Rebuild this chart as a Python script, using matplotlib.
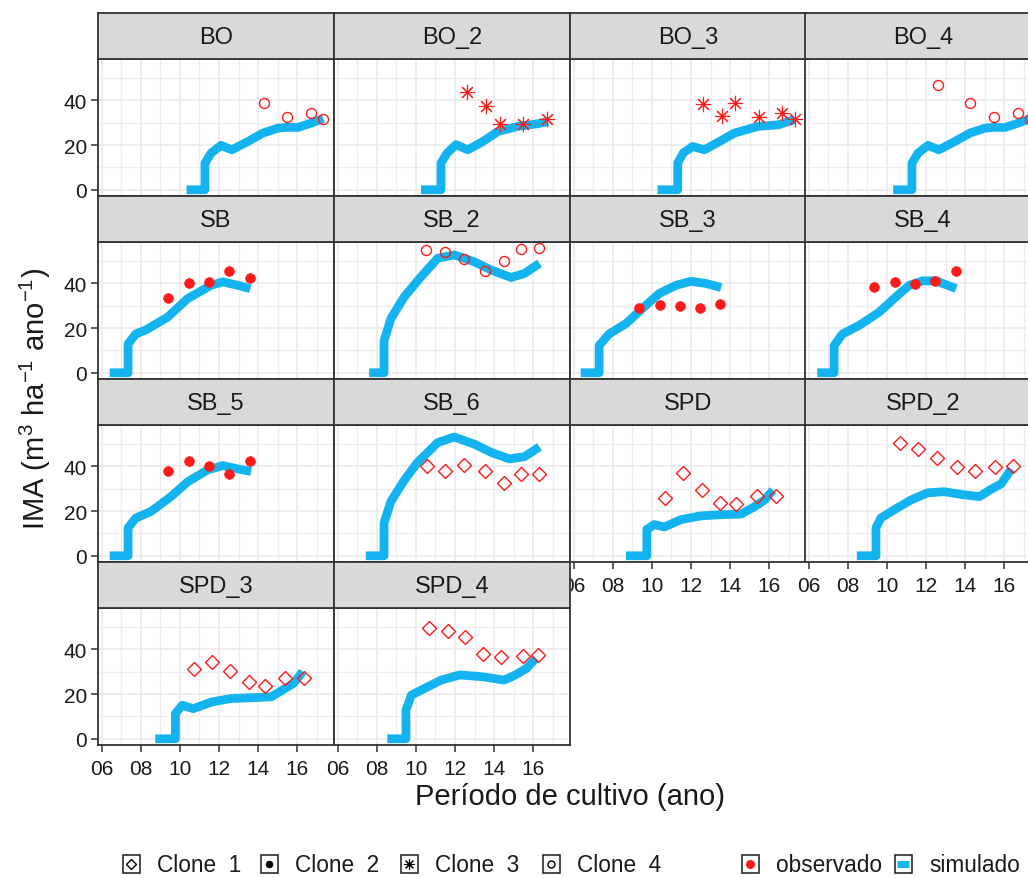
import matplotlib
matplotlib.use("Agg")
import matplotlib.pyplot as plt
from matplotlib.patches import Rectangle
from matplotlib.lines import Line2D
from matplotlib.ticker import MultipleLocator, FixedLocator

plt.rcParams['font.family'] = ['Liberation Sans', 'DejaVu Sans']
plt.rcParams['mathtext.fontset'] = 'custom'
plt.rcParams['mathtext.rm'] = 'Liberation Sans'
plt.rcParams['mathtext.it'] = 'Liberation Sans:italic'

# panels in facet order
panels = ["BO", "BO_2", "BO_3", "BO_4", "SB", "SB_2", "SB_3", "SB_4",
          "SB_5", "SB_6", "SPD", "SPD_2", "SPD_3", "SPD_4"]

clone = {"BO": 4, "BO_2": 3, "BO_3": 3, "BO_4": 4, "SB": 2, "SB_2": 4,
         "SB_3": 2, "SB_4": 2, "SB_5": 2, "SB_6": 1, "SPD": 1, "SPD_2": 1,
         "SPD_3": 1, "SPD_4": 1}

# simulated IMA
sim_x = {
    "BO": [10.34, 11.28, 11.28, 11.59, 12.1, 12.65, 13.47, 14.24, 15.01, 15.5, 16.03, 16.72, 17.33],
    "BO_2": [10.26, 11.28, 11.28, 11.6, 12.05, 12.65, 13.4, 14.19, 15.21, 16.24, 16.75],
    "BO_3": [10.29, 11.32, 11.32, 11.6, 12.08, 12.68, 13.45, 14.22, 15.42, 16.45, 17.3],
    "BO_4": [10.32, 11.28, 11.28, 11.59, 12.1, 12.65, 13.47, 14.24, 15.01, 15.5, 16.03, 16.72, 17.33],
    "SB": [6.41, 7.35, 7.35, 7.74, 8.26, 9.37, 10.39, 11.59, 12.19, 12.96, 13.6],
    "SB_2": [7.61, 8.37, 8.37, 8.72, 9.4, 10.26, 11.11, 11.96, 12.99, 13.85, 14.87, 15.55, 16.32],
    "SB_3": [6.36, 7.3, 7.3, 7.81, 8.67, 9.69, 10.37, 11.23, 12.0, 12.77, 13.54],
    "SB_4": [6.44, 7.3, 7.3, 7.73, 8.58, 9.61, 10.46, 11.15, 11.83, 12.51, 13.54],
    "SB_5": [6.41, 7.35, 7.35, 7.74, 8.51, 9.54, 10.39, 11.42, 12.19, 12.96, 13.64],
    "SB_6": [7.44, 8.37, 8.37, 8.72, 9.4, 10.09, 11.11, 11.96, 12.99, 13.85, 14.78, 15.55, 16.32],
    "SPD": [8.67, 9.74, 9.74, 10.12, 10.63, 11.49, 12.51, 13.54, 14.56, 15.25, 15.76, 16.19],
    "SPD_2": [8.46, 9.44, 9.44, 9.69, 10.37, 11.23, 12.08, 12.93, 13.79, 14.73, 15.25, 15.85, 16.36],
    "SPD_3": [8.74, 9.77, 9.77, 10.12, 10.68, 11.63, 12.58, 13.72, 14.67, 15.24, 15.81, 16.28],
    "SPD_4": [8.54, 9.49, 9.49, 9.77, 10.34, 11.29, 12.24, 13.38, 14.51, 15.09, 15.66, 16.13],
}
sim_y = {
    "BO": [0, 0, 11.9, 16.4, 19.9, 17.9, 21.6, 25.4, 27.6, 28.0, 27.9, 29.9, 31.9],
    "BO_2": [0, 0, 12, 16.5, 20.2, 17.9, 21.5, 26.1, 28.4, 29.6, 30.6],
    "BO_3": [0, 0, 12, 16.5, 19.4, 17.9, 21.6, 25.4, 28.4, 29.1, 31.4],
    "BO_4": [0, 0, 11.9, 16.4, 19.9, 17.9, 21.6, 25.4, 27.6, 28.0, 27.9, 29.9, 31.9],
    "SB": [0, 0, 12.9, 17.4, 19.2, 24.9, 33.2, 39.2, 40.7, 39.2, 37.7],
    "SB_2": [0, 0, 14.4, 24.2, 34.0, 43.0, 51.3, 52.8, 49.7, 46.0, 42.7, 44.5, 49.0],
    "SB_3": [0, 0, 12.2, 17.4, 22.0, 30.2, 35.5, 39.2, 41.0, 40.0, 38.2],
    "SB_4": [0, 0, 12.2, 17.4, 21.2, 27.2, 34.0, 39.2, 41.2, 41.2, 37.7],
    "SB_5": [0, 0, 12.5, 16.9, 19.8, 26.5, 33.1, 38.5, 40.4, 38.9, 37.8],
    "SB_6": [0, 0, 14.7, 24.3, 33.8, 41.9, 50.7, 53.2, 50.0, 46.3, 43.4, 44.4, 48.8],
    "SPD": [0, 0, 11.8, 14.0, 12.9, 16.2, 17.9, 18.4, 18.7, 22.0, 25.0, 29.4],
    "SPD_2": [0, 0, 12.5, 16.9, 20.6, 25.0, 28.2, 28.7, 27.5, 26.5, 29.4, 32.3, 38.9],
    "SPD_3": [0, 0, 11.3, 15.0, 13.5, 16.5, 18.0, 18.4, 18.8, 21.8, 24.8, 30.1],
    "SPD_4": [0, 0, 12.8, 19.6, 22.1, 26.3, 28.6, 27.8, 26.3, 28.6, 31.6, 36.1],
}

# observed IMA
obs_x = {
    "BO": [14.31, 15.47, 16.72, 17.33],
    "BO_2": [12.62, 13.59, 14.31, 15.47, 16.72],
    "BO_3": [12.6, 13.57, 14.27, 15.45, 16.67, 17.3],
    "BO_4": [12.6, 14.27, 15.45, 16.7, 17.33],
    "SB": [9.38, 10.44, 11.5, 12.53, 13.57],
    "SB_2": [10.51, 11.5, 12.44, 13.54, 14.5, 15.38, 16.27],
    "SB_3": [9.32, 10.43, 11.45, 12.46, 13.49],
    "SB_4": [9.35, 10.43, 11.45, 12.46, 13.54],
    "SB_5": [9.38, 10.44, 11.5, 12.53, 13.57],
    "SB_6": [10.56, 11.5, 12.47, 13.55, 14.5, 15.35, 16.27],
    "SPD": [10.68, 11.59, 12.55, 13.5, 14.31, 15.38, 16.32],
    "SPD_2": [10.67, 11.6, 12.55, 13.57, 14.48, 15.55, 16.45],
    "SPD_3": [10.73, 11.63, 12.58, 13.53, 14.35, 15.39, 16.36],
    "SPD_4": [10.69, 11.62, 12.52, 13.44, 14.33, 15.47, 16.23],
}
obs_y = {
    "BO": [38.8, 32.8, 34.6, 31.9],
    "BO_2": [43.6, 37.6, 29.4, 29.6, 31.7],
    "BO_3": [38.5, 33.1, 38.8, 32.8, 34.3, 31.8],
    "BO_4": [47.0, 38.8, 32.8, 34.6, 31.8],
    "SB": [33.7, 40.4, 40.7, 45.5, 42.4],
    "SB_2": [55.0, 54.3, 51.0, 45.4, 50.2, 55.5, 55.8],
    "SB_3": [29.2, 30.2, 29.8, 28.9, 30.7],
    "SB_4": [38.5, 40.7, 39.7, 41.2, 45.7],
    "SB_5": [38.2, 42.6, 40.0, 36.6, 42.6],
    "SB_6": [40.4, 38.2, 40.7, 38.2, 32.6, 36.5, 36.5],
    "SPD": [26.0, 37.0, 29.4, 23.8, 23.2, 26.8, 26.8],
    "SPD_2": [50.7, 47.8, 43.8, 39.7, 38.2, 39.6, 40.0],
    "SPD_3": [31.3, 34.6, 30.5, 25.6, 23.6, 27.2, 27.1],
    "SPD_4": [49.6, 48.1, 45.4, 38.1, 36.8, 37.3, 37.6],
}

clone_labels = ["Clone  1", "Clone  2", "Clone  3", "Clone  4"]

RED = "#FF1A1A"
BLUE = "#12B3EE"
DARK = "#333333"
TXT = "#1A1A1A"
ASTER = (8, 2, 0)


def marker_style(c, color, small=False):
    k = 0.7 if small else 1.0
    if c == 1:
        return dict(marker="D", ms=6.8 * k, mfc="none", mec=color, mew=1.0)
    if c == 2:
        return dict(marker="o", ms=7 * k, mfc=color, mec=color, mew=0.5)
    if c == 3:
        return dict(marker=ASTER, ms=11 * k, mfc="none", mec=color, mew=0.8)
    return dict(marker="o", ms=7.2 * k, mfc="none", mec=color, mew=1.0)


# shared scales, ggplot style 5% expansion
all_x = [v for p in panels for v in sim_x[p] + obs_x[p]]
all_y = [v for p in panels for v in sim_y[p] + obs_y[p]]
xr = max(all_x) - min(all_x)
yr = max(all_y) - min(all_y)
xlim = (min(all_x) - 0.05 * xr, max(all_x) + 0.05 * xr)
ylim = (min(all_y) - 0.05 * yr, max(all_y) + 0.05 * yr)

W, H = 1028, 879
fig = plt.figure(figsize=(W / 100, H / 100), dpi=100)
fig.patch.set_facecolor("white")

col_left = [98, 334, 570, 805]
pw, strip_h, ph = 236, 46, 137
top0, pitch = 14, 183

for i, name in enumerate(panels):
    r, c = divmod(i, 4)
    st = top0 + pitch * r
    pt = st + strip_h
    ax = fig.add_axes([col_left[c] / W, 1 - (pt + ph) / H, pw / W, ph / H])
    sax = fig.add_axes([col_left[c] / W, 1 - pt / H, pw / W, strip_h / H])

    # strip
    sax.set_facecolor("#D9D9D9")
    sax.set_xticks([])
    sax.set_yticks([])
    for s in sax.spines.values():
        s.set_color(DARK)
        s.set_linewidth(1.3)
    sax.text(0.5, 0.48, name, ha="center", va="center", fontsize=17,
             color=TXT, transform=sax.transAxes)

    ax.set_xlim(xlim)
    ax.set_ylim(ylim)
    ax.xaxis.set_major_locator(FixedLocator([6, 8, 10, 12, 14, 16]))
    ax.xaxis.set_minor_locator(FixedLocator([7, 9, 11, 13, 15, 17]))
    ax.yaxis.set_major_locator(MultipleLocator(20))
    ax.yaxis.set_minor_locator(FixedLocator([10, 30, 50]))
    ax.grid(which="major", color="#EBEBEB", lw=1.2)
    ax.grid(which="minor", color="#EDEDED", lw=0.9)
    ax.set_axisbelow(True)
    for s in ax.spines.values():
        s.set_color(DARK)
        s.set_linewidth(1.3)

    ax.plot(sim_x[name], sim_y[name], color=BLUE, lw=6.3,
            solid_capstyle="butt", solid_joinstyle="round", zorder=2)
    ax.plot(obs_x[name], obs_y[name], ls="none", zorder=3,
            **marker_style(clone[name], RED))

    show_x = (r == 3) or (r == 2 and c >= 2)
    show_y = c == 0
    ax.tick_params(which="minor", length=0)
    ax.tick_params(which="major", direction="out", length=5, width=1.1,
                   color=DARK, labelsize=15, labelcolor=TXT)
    ax.tick_params(axis="x", pad=5)
    ax.tick_params(axis="y", pad=3)
    ax.tick_params(axis="x", bottom=show_x, labelbottom=show_x)
    ax.tick_params(axis="y", left=show_y, labelleft=show_y)
    ax.set_xticklabels(["%02d" % v for v in [6, 8, 10, 12, 14, 16]])

# axis titles
fig.text(35 / W, 1 - 399 / H, "IMA (m$^{3}$ ha$^{-1}$ ano$^{-1}$)",
         rotation=90, ha="center", va="center", fontsize=21, color=TXT)
fig.text(570 / W, 1 - 797 / H, "Período de cultivo (ano)",
         ha="center", va="center", fontsize=21, color=TXT)

# legend
ly = 865
keys = []
for j, lab in enumerate(clone_labels):
    keys.append(([131, 269, 409, 551][j], lab,
                 marker_style(j + 1, "black", small=True)))
keys.append((750, "observado", dict(marker="o", ms=5.5, mfc=RED, mec=RED)))
keys.append((903, "simulado", None))

for cx, lab, style in keys:
    fig.add_artist(Rectangle(((cx - 8.5) / W, 1 - (ly + 9) / H), 17 / W, 18 / H,
                             transform=fig.transFigure, fc="white",
                             ec=TXT, lw=1.1))
    if style is None:
        fig.add_artist(Line2D([(cx - 6) / W, (cx + 6) / W], [1 - ly / H] * 2,
                              transform=fig.transFigure, color=BLUE, lw=5,
                              solid_capstyle="butt"))
    else:
        fig.add_artist(Line2D([cx / W], [1 - ly / H], transform=fig.transFigure,
                              ls="none", **style))
    fig.text((cx + 26) / W, 1 - (ly + 1) / H, lab, ha="left", va="center",
             fontsize=16.3, color=TXT)

fig.savefig("out.png", dpi=100)
